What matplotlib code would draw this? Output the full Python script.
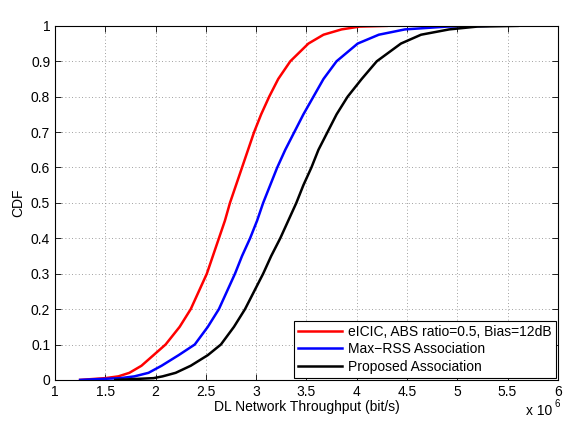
import matplotlib
matplotlib.use("Agg")
import matplotlib.pyplot as plt
import numpy as np

plt.rcParams['font.family'] = ['Liberation Sans', 'DejaVu Sans']
plt.rcParams['font.size'] = 10

# CDF levels and the throughput (x 1e6 bit/s) at which each curve reaches them
cdf = [0, 0.005, 0.01, 0.02, 0.04, 0.07, 0.1, 0.15, 0.2, 0.25, 0.3, 0.35,
       0.4, 0.45, 0.5, 0.55, 0.6, 0.65, 0.7, 0.75, 0.8, 0.85, 0.9, 0.95,
       0.975, 0.99, 0.998, 1.0]
eicic = [1.25, 1.50, 1.63, 1.74, 1.86, 1.98, 2.10, 2.24, 2.35, 2.43, 2.51, 2.57,
         2.63, 2.69, 2.74, 2.80, 2.86, 2.92, 2.98, 3.05, 3.13, 3.22, 3.34, 3.52,
         3.67, 3.85, 4.03, 4.30]
maxrss = [1.25, 1.65, 1.79, 1.93, 2.06, 2.23, 2.39, 2.52, 2.63, 2.71, 2.79, 2.86,
          2.94, 3.01, 3.07, 3.14, 3.21, 3.29, 3.38, 3.47, 3.57, 3.67, 3.80, 4.01,
          4.22, 4.48, 4.90, 5.30]
proposed = [1.60, 1.98, 2.07, 2.20, 2.35, 2.52, 2.65, 2.78, 2.89, 2.98, 3.07, 3.15,
            3.24, 3.32, 3.40, 3.47, 3.55, 3.62, 3.71, 3.80, 3.91, 4.05, 4.20, 4.44,
            4.64, 4.92, 5.20, 5.60]

labels = ['eICIC, ABS ratio=0.5, Bias=12dB', 'Max\u2212RSS Association',
          'Proposed Association']
colors = ['#ff0000', '#0000ff', '#000000']

fig = plt.figure(figsize=(5.64, 4.24), dpi=100)
ax = fig.add_axes([0.0975, 0.104, 0.8915, 0.835])

for xs, lab, c in zip([eicic, maxrss, proposed], labels, colors):
    ax.plot(np.array(xs) * 1e6, cdf, color=c, lw=1.8, label=lab)

ax.set_xlim(1e6, 6e6)
ax.set_ylim(0, 1)
ax.set_xticks(np.arange(1, 6.01, 0.5) * 1e6)
ax.set_xticklabels(['1', '1.5', '2', '2.5', '3', '3.5', '4', '4.5', '5', '5.5', '6'])
ax.set_yticks(np.arange(0, 1.01, 0.1))
ax.set_yticklabels(['0', '0.1', '0.2', '0.3', '0.4', '0.5', '0.6', '0.7', '0.8', '0.9', '1'])
ax.tick_params(direction='in', top=True, right=True, length=4, width=0.6)
ax.grid(True, linestyle=(0, (1, 3)), color='#808080', lw=0.6)
for s in ax.spines.values():
    s.set_linewidth(0.8)

ax.set_xlabel('DL Network Throughput (bit/s)', labelpad=1)
ax.set_ylabel('CDF', labelpad=4)
# scale factor for the x axis, placed under the right end
fig.text(0.933, 0.022, 'x 10', ha='left', va='baseline', fontsize=10)
fig.text(0.983, 0.040, '6', ha='left', va='baseline', fontsize=7)

leg = ax.legend(loc='lower right', fancybox=False, edgecolor='black',
                framealpha=1, borderpad=0.3, labelspacing=0.25,
                handlelength=3.2, handletextpad=0.4, borderaxespad=0.15)
leg.get_frame().set_linewidth(0.8)

fig.savefig('out.png', dpi=100)
